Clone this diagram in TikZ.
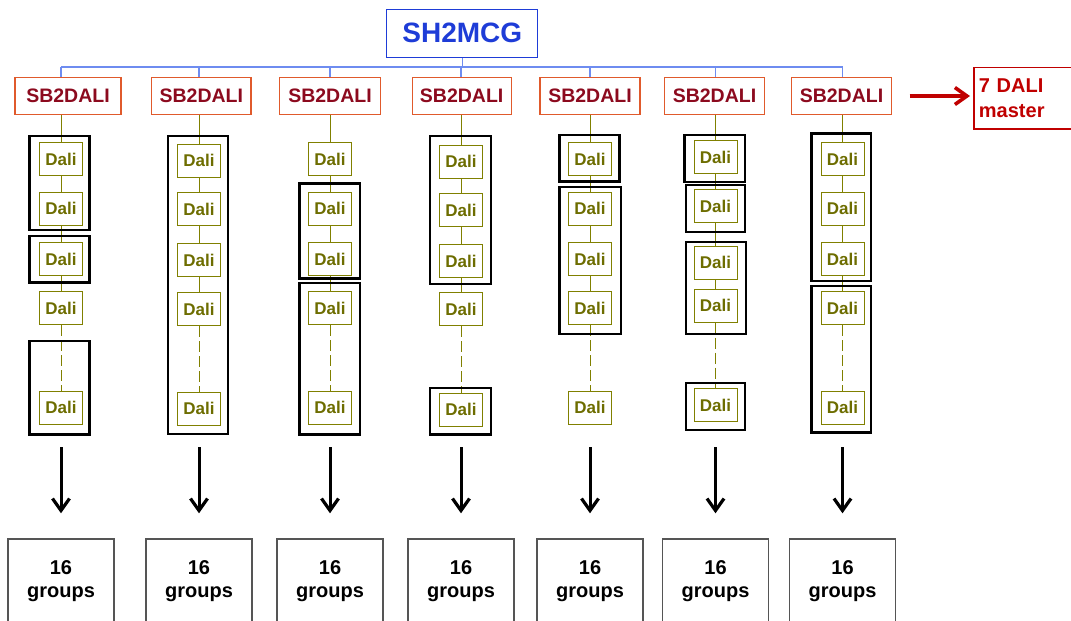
\documentclass[tikz,border=0pt]{standalone}
\usepackage{fontspec}
\setmainfont{Liberation Sans}
\usetikzlibrary{arrows.meta}
\definecolor{mcgblue}{RGB}{30,60,215}
\definecolor{busblue}{RGB}{110,140,240}
\definecolor{sborange}{RGB}{224,90,44}
\definecolor{sbred}{RGB}{140,10,30}
\definecolor{daliolive}{RGB}{128,128,0}
\definecolor{masterred}{RGB}{192,0,0}
\definecolor{outgray}{RGB}{85,85,85}

\begin{document}
\begin{tikzpicture}[x=1pt, y=-1pt,
        mcg/.style={draw=mcgblue, line width=1.2pt, text=mcgblue,
                    font=\fontsize{28}{30}\selectfont\bfseries,
                    minimum width=151pt, minimum height=48pt, inner sep=0pt},
        bus/.style={draw=busblue, line width=1.2pt},
        sbbox/.style={draw=sborange, line width=1.3pt, text=sbred,
                    font=\fontsize{19.5}{22}\selectfont\bfseries,
                    minimum height=36.6pt, inner sep=0pt},
        dali/.style={draw=daliolive, line width=1pt, text=daliolive!85!black,
                    font=\fontsize{17}{19}\selectfont\bfseries,
                    minimum width=43pt, minimum height=33pt, inner sep=0pt},
        link/.style={draw=daliolive, line width=1pt},
        dlink/.style={link, dash pattern=on 11pt off 4pt},
        grpframe/.style={draw=black, line width=2.4pt},
        down/.style={-{Straight Barb[length=12pt,width=17pt,line width=3.2pt]},
                    line width=3pt},
        outbox/.style={draw=outgray, line width=1.4pt, align=center,
                    font=\fontsize{20}{23}\selectfont\bfseries,
                    minimum width=106pt, minimum height=84pt, inner sep=0pt},
        master/.style={draw=masterred, line width=1.3pt, text=masterred, align=left,
                    font=\fontsize{20}{25}\selectfont\bfseries, anchor=north west,
                    text width=100pt, minimum height=61.6pt, inner xsep=5pt},
        masterarrow/.style={-{Straight Barb[length=12pt,width=17pt]}, line width=3.6pt,
                    draw=masterred}
    ]
        \useasboundingbox (0,0) rectangle (1071,621);
        \clip (0,0) rectangle (1071,621);

        \node[mcg] (mcg) at (462.3,33.3) {SH2MCG};
        \coordinate (bus) at (0,67);

        \foreach \i/\x/\bx/\bw/\ya/\yb/\yc/\yd/\ye in {
                1/61/68/106/159/208.5/259/308/407.5,
                2/199/201.3/99.3/160.5/209/260/309/408.5,
                3/330/330/101/159/208.5/259/308/407.5,
                4/461/461.7/99/161.5/210/261/309/409.5,
                5/590/590/100/159/208.5/259/308/407.5,
                6/715.5/714.5/100/157/206/262.5/305.5/405,
                7/842.5/841.5/100/159/208.5/259/308/407.5} {
            \coordinate (col\i) at (\x,0);
            \node[sbbox, minimum width=\bw pt] (sb\i) at (\bx,96) {SB2DALI};
            \foreach \k/\y in {1/\ya, 2/\yb, 3/\yc, 4/\yd, 5/\ye}
                \node[dali] (d\i-\k) at (\x,\y) {Dali};
            \node[outbox] (out\i) at (\x,581) {16\\groups};
            \coordinate (top\i) at (\x,447);

            \draw[bus] (col\i |- bus) -- (col\i |- sb\i.north);
            \draw[link] (col\i |- sb\i.south) -- (d\i-1);
            \draw[link] (d\i-1) -- (d\i-2);
            \draw[link] (d\i-2) -- (d\i-3);
            \draw[link] (d\i-3) -- (d\i-4);
            \draw[dlink] (d\i-4) -- (d\i-5);
            \draw[down, shorten >=25pt] (top\i) -- (top\i |- out\i.north);
        }

        \draw[bus] (mcg.south) -- (mcg.south |- bus);
        \draw[bus] (col1 |- bus) -- (col7 |- bus);

        \foreach \xa/\ya/\xb/\yb in {
                29.3/135.7/89.3/230, 29.3/235.7/89.3/282.3, 29.3/341/89.3/434.3,
                168/135.7/227.7/434,
                299.3/183.3/360/278.3, 299.3/282.7/360/434.3,
                430/135.7/491/283.7, 430/387.7/491/434.3,
                559.3/134.7/619.3/181.3, 559.3/186.7/620.7/334,
                684.3/134.7/745/181.7, 685.7/185/745/232, 685.7/241.7/746/334,
                685.7/382.7/745/430,
                811.3/133.3/871/280.7, 811.3/285.7/871/432.3}
            \draw[grpframe] (\xa,\ya) rectangle (\xb,\yb);

        \node[master] (master) at (973.3,66.7) {7 DALI\\master};
        \draw[masterarrow, shorten <=17.5pt, shorten >=3.3pt]
            (sb7.east) -- (sb7.east -| master.west);
    \end{tikzpicture}
\end{document}
